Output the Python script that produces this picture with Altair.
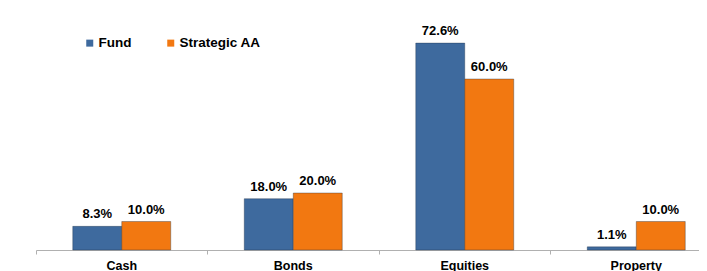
import altair as alt
import pandas as pd

categories = ["Cash", "Bonds", "Equities", "Property"]
series = ["Fund", "Strategic AA"]
fund = [0.083, 0.180, 0.726, 0.011]
strategic = [0.100, 0.200, 0.600, 0.100]
colors = ["#3E6A9E", "#F27811"]

rows = []
for c, f, s in zip(categories, fund, strategic):
    rows.append({"category": c, "series": "Fund", "value": f})
    rows.append({"category": c, "series": "Strategic AA", "value": s})
df = pd.DataFrame(rows)

FONT = "Liberation Sans"

x = alt.X("category:N", sort=categories,
          scale=alt.Scale(range=[0, 686], paddingInner=0, paddingOuter=0),
          axis=alt.Axis(title=None, labelAngle=0, labelFont=FONT, labelFontSize=12.5,
                        labelFontWeight="bold", labelColor="#000000", labelPadding=5,
                        domainColor="#b0b0b0", tickColor="#b0b0b0", tickSize=4,
                        bandPosition=0, grid=False))
xo = alt.XOffset("series:N", sort=series,
                 scale=alt.Scale(paddingInner=0, paddingOuter=0.75))
y = alt.Y("value:Q", scale=alt.Scale(domain=[0, 0.8], nice=False), axis=None)

base = alt.Chart(df)

bars = base.mark_bar(strokeWidth=1, strokeOpacity=0.35, stroke="#1a2a40").encode(
    x=x, xOffset=xo, y=y,
    color=alt.Color("series:N", sort=series,
                    scale=alt.Scale(domain=series, range=colors),
                    legend=alt.Legend(title=None, orient="none", direction="horizontal",
                                      legendX=47, legendY=14, symbolType="square",
                                      symbolSize=49, symbolStrokeWidth=0,
                                      labelFont=FONT, labelFontSize=13.5,
                                      labelFontWeight="bold", labelColor="#000000",
                                      labelOffset=2, columnPadding=32)),
)

labels = base.mark_text(font=FONT, fontSize=13, fontWeight="bold", color="#000000",
                        baseline="alphabetic", dy=-8).encode(
    x=x, xOffset=xo, y=y,
    text=alt.Text("value:Q", format=".1%"),
)

chart = alt.layer(bars, labels).properties(
    width=663, height=228,
    autosize=alt.AutoSizeParams(type="none"),
    padding={"left": 28, "top": 14, "right": 0, "bottom": 21},
).configure_view(stroke=None)

chart.save("out.html", embed_options={"renderer": "svg", "actions": False})
